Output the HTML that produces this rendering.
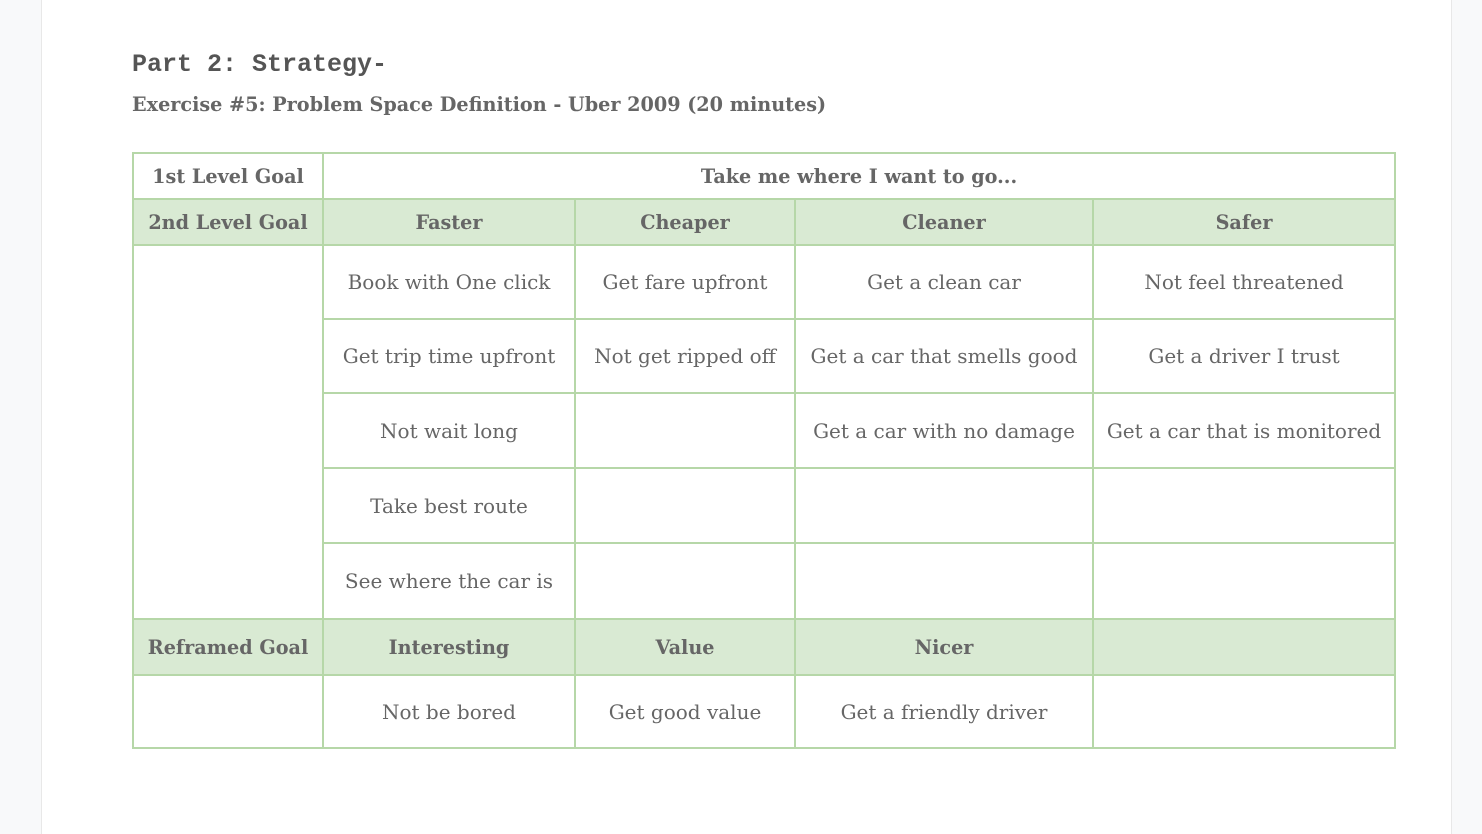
<!DOCTYPE html>
<html><head><meta charset="utf-8"><style>
body{margin:0;width:1482px;height:834px;background:#f8f9fa;overflow:hidden;position:relative;font-family:"DejaVu Serif",serif;color:#666}
.page{position:absolute;left:41px;top:0;width:1409px;height:834px;background:#fff;border-left:1px solid #e8e8e8;border-right:1px solid #e8e8e8}
h1{position:absolute;left:132px;top:50px;margin:0;font:bold 25px "Liberation Mono",monospace;color:#555}
h2{position:absolute;left:132px;top:93px;margin:0;font:bold 19.2px "DejaVu Serif",serif;color:#666}
table{position:absolute;left:132px;top:152px;border-collapse:collapse;table-layout:fixed;width:1264px}
td{border:2px solid #b6d7a8;text-align:center;font-size:20px;padding:0;color:#666;white-space:nowrap}
.g td{background:#d9ead3;font-weight:bold;font-size:19.2px}
.b{font-weight:bold;font-size:19.2px}
</style></head><body>
<div class="page"></div>
<h1>Part 2: Strategy-</h1>
<h2>Exercise #5: Problem Space Definition - Uber 2009 (20 minutes)</h2>
<table>
<colgroup><col style="width:190px"><col style="width:252px"><col style="width:220px"><col style="width:298px"><col style="width:302px"></colgroup>
<tr style="height:46px"><td class="b">1st Level Goal</td><td class="b" colspan="4">Take me where I want to go...</td></tr>
<tr class="g" style="height:46px"><td>2nd Level Goal</td><td>Faster</td><td>Cheaper</td><td>Cleaner</td><td>Safer</td></tr>
<tr style="height:74px"><td rowspan="5"></td><td>Book with One click</td><td>Get fare upfront</td><td>Get a clean car</td><td>Not feel threatened</td></tr>
<tr style="height:74px"><td>Get trip time upfront</td><td>Not get ripped off</td><td>Get a car that smells good</td><td>Get a driver I trust</td></tr>
<tr style="height:75px"><td>Not wait long</td><td></td><td>Get a car with no damage</td><td>Get a car that is monitored</td></tr>
<tr style="height:75px"><td>Take best route</td><td></td><td></td><td></td></tr>
<tr style="height:76px"><td>See where the car is</td><td></td><td></td><td></td></tr>
<tr class="g" style="height:56px"><td>Reframed Goal</td><td>Interesting</td><td>Value</td><td>Nicer</td><td></td></tr>
<tr style="height:73px"><td></td><td>Not be bored</td><td>Get good value</td><td>Get a friendly driver</td><td></td></tr>
</table>
</body></html>
